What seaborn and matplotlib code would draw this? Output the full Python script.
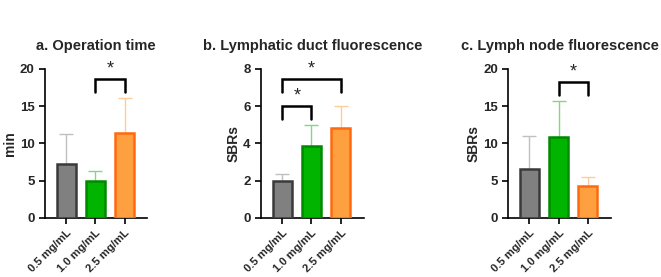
import numpy as np
import pandas as pd
import matplotlib
matplotlib.use('Agg')
import matplotlib.pyplot as plt
import seaborn as sns

groups = ['0.5 mg/mL', '1.0 mg/mL', '2.5 mg/mL']
titles = ['a. Operation time', 'b. Lymphatic duct fluorescence', 'c. Lymph node fluorescence']
ylabels = ['min', 'SBRs', 'SBRs']

op_mean = [7.3, 4.9, 11.4]
op_sd = [4.0, 1.4, 4.7]
duct_mean = [2.0, 3.85, 4.82]
duct_sd = [0.35, 1.12, 1.2]
node_mean = [6.6, 10.9, 4.3]
node_sd = [4.4, 4.8, 1.2]

ylims = [20, 8, 20]
ysteps = [5, 2, 5]
# brackets: (left bar, right bar, leg bottom, top)
op_sig = [(1, 2, 16.9, 18.6)]
duct_sig = [(0, 1, 5.33, 6.0), (0, 2, 6.79, 7.46)]
node_sig = [(1, 2, 16.5, 18.3)]

fills = ['#808080', '#00b400', '#ffa040']
edges = ['#3a3a3a', '#008a00', '#ff6a10']
errc = ['#c0c0c0', '#80d880', '#ffcc99']

sns.set_style('ticks')
plt.rcParams['font.family'] = ['Liberation Sans', 'DejaVu Sans']

fig = plt.figure(figsize=(6.61, 2.77), dpi=100)
lefts = [0.068, 0.395, 0.769]
width = 0.155
means = [op_mean, duct_mean, node_mean]
sds = [op_sd, duct_sd, node_sd]
sigs = [op_sig, duct_sig, node_sig]

for i in range(3):
    ax = fig.add_axes([lefts[i], 0.213, width, 0.538])
    df = pd.DataFrame({'group': groups, 'value': means[i]})
    sns.barplot(data=df, x='group', y='value', hue='group', palette=fills,
                saturation=1, width=0.65, legend=False, ax=ax, zorder=3)
    for p, ec in zip(ax.patches, edges):
        p.set_edgecolor(ec)
        p.set_linewidth(1.8)
    for j in range(3):
        ax.errorbar(j, means[i][j], yerr=[[0], [sds[i][j]]], fmt='none',
                    ecolor=errc[j], elinewidth=1.0, capsize=5, capthick=1.0, zorder=2)
    ymax = ylims[i]
    for (a, b, lo, hi) in sigs[i]:
        ax.plot([a, a, b, b], [lo, hi, hi, lo], color='black', lw=1.8,
                solid_joinstyle='miter', clip_on=False, zorder=4)
        ax.text((a + b) / 2, hi + ymax * 0.01, '*', ha='center', va='bottom',
                fontsize=13, clip_on=False)
    ax.set_xlim(-0.72, 2.78)
    ax.set_ylim(0, ymax)
    ax.set_yticks(np.arange(0, ymax + 0.1, ysteps[i]))
    ax.set_xlabel('')
    ax.set_ylabel(ylabels[i], fontsize=10, fontweight='bold', labelpad=2)
    ax.set_title(titles[i], fontsize=10.5, fontweight='bold', pad=14)
    ax.set_xticks(range(3))
    ax.set_xticklabels(groups, rotation=45, ha='right', rotation_mode='anchor',
                       fontsize=8.0, fontweight='bold')
    for lab in ax.get_yticklabels():
        lab.set_fontweight('bold')
        lab.set_fontsize(9.5)
    ax.tick_params(axis='both', width=1.2, length=4, color='black')
    ax.tick_params(axis='x', pad=3)
    sns.despine(ax=ax)
    for s in ['left', 'bottom']:
        ax.spines[s].set_linewidth(1.2)
        ax.spines[s].set_color('black')

fig.savefig('out.png', dpi=100)
